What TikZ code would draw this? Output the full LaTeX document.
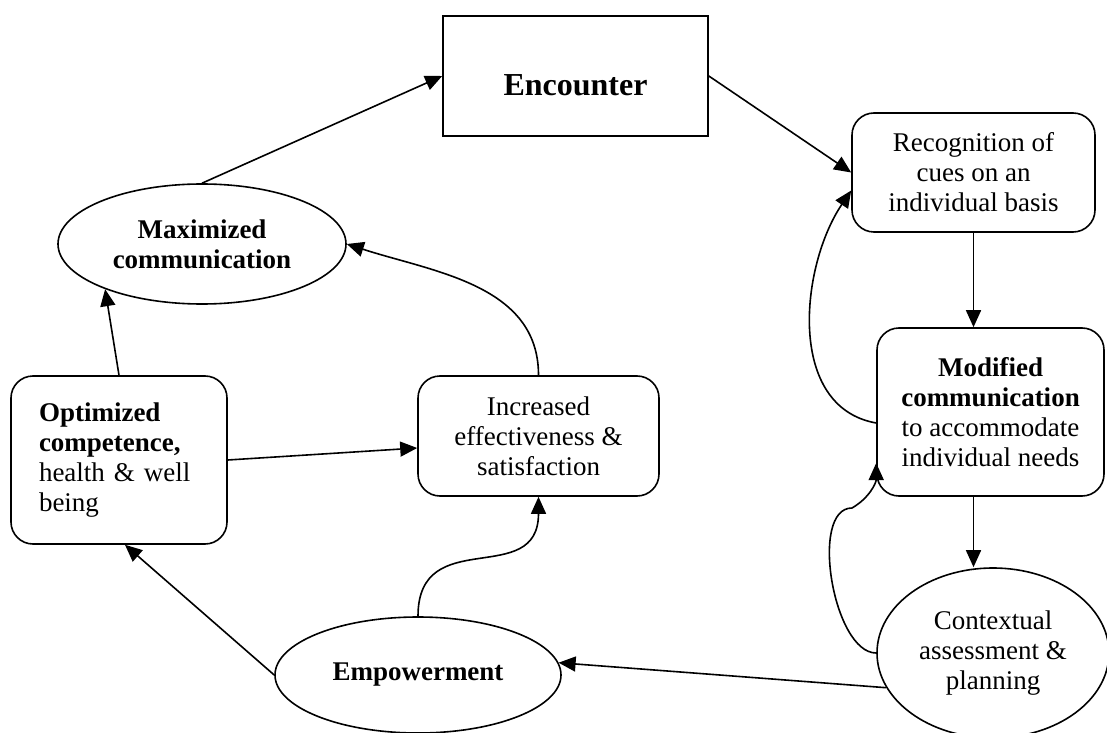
\documentclass[tikz,border=0pt]{standalone}
\usepackage{fontspec}
\setmainfont{Liberation Serif}
\usetikzlibrary{shapes.geometric,arrows.meta}

\begin{document}
\begin{tikzpicture}[x=1pt, y=1pt, line width=1.6pt,
    >={Triangle[length=17pt,width=15pt]},
    every node/.style={inner sep=0pt, line width=1.6pt, font=\fontsize{27}{30}\selectfont}]
    \useasboundingbox (0,0) rectangle (1107,732);
    \node[shape=rectangle, draw=black, minimum width=265pt, minimum height=120pt, text height=39pt, font=\bfseries\fontsize{32}{36}\selectfont] at (575.5,656) (Enc) {Encounter};
    \node[shape=rectangle, draw=black, rounded corners=22pt, minimum width=243pt, minimum height=119pt, align=center] at (973.5,559.5) (Rec) {Recognition of\\cues on an\\individual basis};
    \node[shape=rectangle, draw=black, rounded corners=22pt, minimum width=227pt, minimum height=168pt, align=center] at (990.5,320) (Mod) {\textbf{Modified}\\\textbf{communication}\\to accommodate\\individual needs};
    \node[shape=ellipse, draw=black, minimum width=232pt, minimum height=170pt, align=center] at (993,79) (Ctx) {Contextual\\assessment \&\\planning};
    \node[shape=ellipse, draw=black, minimum width=286pt, minimum height=116pt, font=\bfseries\fontsize{27}{30}\selectfont] at (418,57) (Emp) {Empowerment};
    \node[shape=rectangle, draw=black, rounded corners=22pt, minimum width=241pt, minimum height=120pt, align=center] at (538.5,296) (Inc) {Increased\\effectiveness \&\\satisfaction};
    \node[shape=rectangle, draw=black, rounded corners=22pt, minimum width=216pt, minimum height=168pt, text width=160pt, align=left] at (119,272) (Opt) {\textbf{Optimized}\\\textbf{competence,}\\health \& well\\being};
    \node[shape=ellipse, draw=black, minimum width=288pt, minimum height=120pt, align=center, font=\bfseries\fontsize{27}{30}\selectfont] at (202,488) (Max) {Maximized\\communication};
    \coordinate (Kink) at (852,224);
    \path [->] (Max.north) edge (Enc.west);
    \path [->] (Enc.east) edge (Rec.west);
    \path [->] (Rec.south) edge (Rec.south |- Mod.north);
    \path [->] (Rec.south |- Mod.south) edge (Rec.south |- Ctx.north);
    \path [->] ([yshift=-11pt]Mod.west) edge[out=170, in=236] ([yshift=-18pt]Rec.west);
    \draw [->] (Ctx.west) to[out=180, in=180, looseness=0.75] (Kink) to[out=30, in=-90] ([yshift=-51pt]Mod.west);
    \path [->] (Ctx.198) edge (Emp.5);
    \path [->] (Emp.west) edge ([xshift=6pt]Opt.south);
    \path [->] (Emp.north) edge[out=90, in=-90, looseness=1.4] (Inc.south);
    \path [->] (Opt.east) edge ([yshift=-12pt]Inc.west);
    \path [->] (Opt.north) edge (Max.205);
    \path [->] (Inc.north) edge[out=90, in=-18] (Max.east);
\end{tikzpicture}
\end{document}
